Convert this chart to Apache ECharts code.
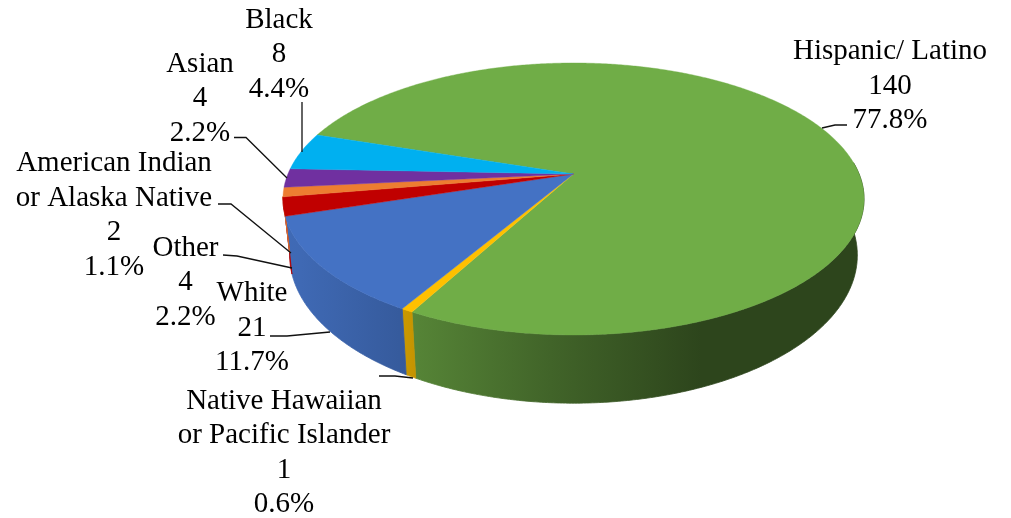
<!DOCTYPE html>
<html>
<head>
<meta charset="utf-8">
<style>html,body{margin:0;padding:0;background:#fff}#c{width:1011px;height:518px}</style>
<script src="https://cdn.jsdelivr.net/npm/echarts@6/dist/echarts.min.js"></script>
</head>
<body>
<div id="c"></div>
<script>
var categories = ['Hispanic/ Latino', 'Native Hawaiian\nor Pacific Islander', 'White', 'Other', 'American Indian\nor Alaska Native', 'Asian', 'Black'];
var counts = [140, 1, 21, 4, 2, 4, 8];
var colors = ['#70AD47', '#FFC000', '#4472C4', '#C00000', '#ED7D31', '#7030A0', '#00B0F0'];

var total = counts.reduce(function (a, b) { return a + b; }, 0);
var START_DEG = 198.3;
var K = 0.1837;
var TOP = { cx: 573.5, cy: 174, a: 131.4, b: 285.6 };
var BASE = { cx: 573.5, cy: 228, a: 143, b: 279 };
var WALL_FROM = 355, WALL_TO = 530.4; // the front-facing part of the rim
var FONT = '29px "Liberation Serif"';
var LINE_H = 34.4;

// label centre x, first-line top y, leader points, one entry per category
var labelLayout = [
  { x: 890, y: 34.5, leader: [[847, 125], [835, 125], [822, 128]] },
  { x: 284, y: 384, leader: [[379, 376], [395, 376], [413, 378]] },
  { x: 252, y: 276.5, leader: [[270, 336], [287, 336], [330, 332]] },
  { x: 185.5, y: 231, leader: [[223, 255], [237, 256], [292, 268]] },
  { x: 114, y: 146.5, leader: [[218, 204], [231, 204], [291, 253]] },
  { x: 200, y: 47, leader: [[234, 137.5], [246, 137.5], [287, 178]] },
  { x: 279, y: 3, leader: [[302, 102], [302, 152]] }
];

function project(plane, deg) {
  var t = deg * Math.PI / 180, u = Math.cos(t), v = Math.sin(t), w = 1 - K * v;
  return [plane.cx + plane.b * u / w, plane.cy + plane.a * v / w];
}
function arc(plane, d0, d1) {
  var pts = [], n = Math.max(2, Math.ceil((d1 - d0) / 0.5));
  for (var i = 0; i <= n; i++) pts.push(project(plane, d0 + (d1 - d0) * i / n));
  return pts;
}
function shade(hex, f) {
  var n = parseInt(hex.slice(1), 16);
  return 'rgb(' + [(n >> 16) & 255, (n >> 8) & 255, n & 255].map(function (c) { return Math.round(c * f); }).join(',') + ')';
}
function wallFill(hex) {
  var stops = [[0, .93], [.03, .92], [.2, .8], [.235, .76], [.46, .58], [.72, .40], [1, .40]];
  return {
    type: 'linear', x: 283, y: 0, x2: 864, y2: 0, global: true,
    colorStops: stops.map(function (s) { return { offset: s[0], color: shade(hex, s[1]) }; })
  };
}

function renderSlice(params, api) {
  var i = params.dataIndex, before = 0;
  for (var j = 0; j < i; j++) before += counts[j];
  var value = api.value(0);
  var d0 = START_DEG + before / total * 360, d1 = d0 + value / total * 360;
  var topArc = arc(TOP, d0, d1);
  var color = colors[i], lay = labelLayout[i];
  var pct = (value / total * 100).toFixed(1) + '%';
  var children = [
    {
      type: 'polygon', z2: 300,
      shape: { points: [[TOP.cx, TOP.cy]].concat(topArc) },
      style: { fill: color, stroke: color, lineWidth: 0.4 }
    },
    {
      type: 'polyline', z2: 400,
      shape: { points: lay.leader },
      style: { fill: null, stroke: '#111', lineWidth: 1.3 }
    },
    {
      type: 'text', z2: 500, x: lay.x, y: lay.y,
      style: {
        text: categories[i] + '\n' + value + '\n' + pct,
        font: FONT, fill: '#000', align: 'center', verticalAlign: 'top', lineHeight: LINE_H
      }
    }
  ];
  var w0 = Math.max(d0, WALL_FROM), w1 = Math.min(d1, WALL_TO);
  if (w1 > w0) {
    var fill = wallFill(color);
    children.push({
      type: 'polygon', z2: 100 + i,
      shape: { points: arc(TOP, w0, w1).concat(arc(BASE, w0, w1).reverse()) },
      style: { fill: fill, stroke: fill, lineWidth: 0.8 }
    });
  }
  return { type: 'group', children: children };
}

var chart = echarts.init(document.getElementById('c'), null, { renderer: 'canvas' });
chart.setOption({
  animation: false,
  backgroundColor: '#fff',
  series: [{
    type: 'custom',
    coordinateSystem: 'none',
    silent: true,
    clip: false,
    renderItem: renderSlice,
    data: counts.map(function (c, i) { return { name: categories[i], value: [c] }; })
  }]
});
</script>
</body>
</html>
